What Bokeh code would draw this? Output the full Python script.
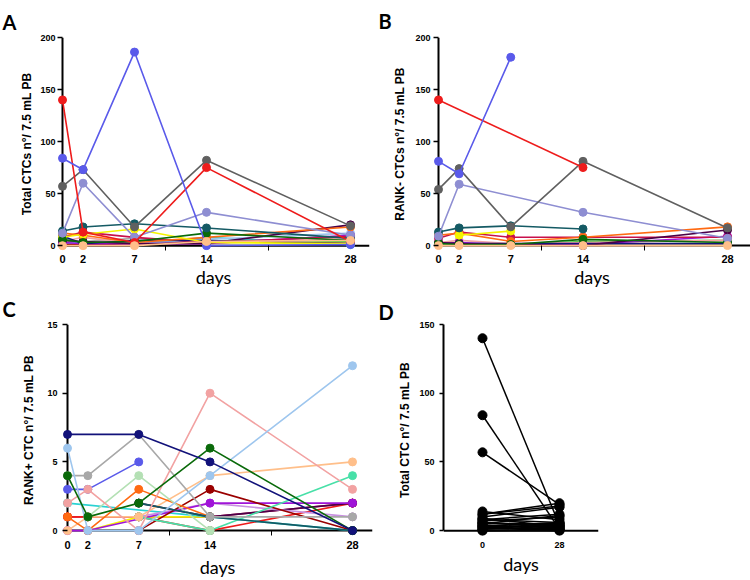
from bokeh.plotting import figure
from bokeh.models import Range1d, FixedTicker
from bokeh.layouts import column, row
from bokeh.embed import file_html
from bokeh.resources import INLINE

# ---------------- data ----------------
days = [0, 2, 7, 14, 28]
minor_days = [10, 20]

RED = "#ee1c1c"; BLUE = "#5a5aea"; DGRAY = "#606060"; LAV = "#8e8ed2"
TEAL = "#145a64"; DGREEN = "#0a6a0a"; YELLOW = "#f4f400"; ORANGE = "#ff6a12"
DPURPLE = "#4a0048"; NAVY = "#12127a"; CRIMSON = "#c8104c"; PURPLE = "#a014d8"
PINK = "#f2a2a2"; LBLUE = "#9ec6ee"; PEACH = "#ffbf8a"; LGRAY = "#a8a8a8"
GREEN = "#3cd23c"; CYAN = "#2ad2d2"; MAROON = "#9a0000"; LGREEN = "#b4e0b4"
AQUA = "#48e0a8"; LPURPLE = "#c890e0"

# Panel A: total CTCs per patient at days 0, 2, 7, 14, 28
total_colors = [LGRAY, GREEN, CYAN, MAROON, PINK, LBLUE, PURPLE, CRIMSON, NAVY,
                DPURPLE, ORANGE, YELLOW, DGREEN, TEAL, LAV, DGRAY, RED, BLUE, PEACH]
total_ctcs = [
    [4, 4, 7, 3, 6],
    [2, 1, 1, 3, 4],
    [2, 3, 1, 8, 1],
    [1, 1, 1, 5, 2],
    [4, 8, 2, 2, 8],
    [6, 3, 2, 6, 12],
    [3, 2, 2, 2, 10],
    [8, 13, 8, 3, 9],
    [9, 2, 5, 5, 2],
    [5, 4, 2, 2, 20],
    [12, 10, 3, 8, 18],
    [8, 11, 16, 3, 2],
    [6, 3, 4, 12, 5],
    [14, 18, 21, 17, 7],
    [12, 60, 8, 32, 10],
    [57, 73, 18, 82, 19],
    [140, 13, 3, 75, 4],
    [84, 73, 186, 0, 1],
    [0, 0, 0, 4, 5],
]

# Panel B: RANK- CTCs
rank_neg_colors = [GREEN, PINK, PURPLE, CRIMSON, NAVY, DPURPLE, ORANGE, YELLOW,
                   DGREEN, TEAL, LAV, DGRAY, RED, BLUE, PEACH]
rank_neg_ctcs = [
    [1, 1, 1, 4, 5],
    [3, 5, 2, 3, 5],
    [2, 3, 1, 1, 9],
    [7, 13, 8, 8, 8],
    [2, 2, None, None, 2],
    [3, 2, 1, 0, 15],
    [10, 12, 4, 8, 18],
    [None, 10, 14, None, None],
    [2, 1, 1, 6, 3],
    [13, 17, 19, 16, None],
    [9, 59, None, 32, 7],
    [54, 74, 18, 81, 17],
    [140, None, None, 75, None],
    [81, 69, 181, None, None],
    [0, 0, 0, 0, 0],
]

# Panel C: RANK+ CTCs
rank_pos_colors = [CRIMSON, RED, YELLOW, CYAN, DPURPLE, LPURPLE, PURPLE, MAROON,
                   AQUA, PEACH, ORANGE, LGREEN, TEAL, BLUE, LGRAY, PINK, LBLUE,
                   DGREEN, NAVY]
rank_pos_ctcs = [
    [1, 1, 1, 1, 2],
    [1, 1, 1, 0, 2],
    [None, 0, 1, 1, None],
    [2, None, None, 1, 0],
    [None, None, 2, 1, 2],
    [None, None, 1, 2, 1],
    [0, 0, None, 2, 2],
    [None, None, 0, 3, 0],
    [None, None, 1, 0, 4],
    [0, 1, 1, 4, 5],
    [1, 0, 3, 1, None],
    [None, 1, 4, 0, None],
    [None, None, 2, 1, 0],
    [3, 3, 5, None, None],
    [4, 4, 7, 1, 1],
    [2, 3, 0, 10, 3],
    [6, 0, 0, 4, 12],
    [4, 1, 2, 6, 0],
    [7, None, 7, 5, 0],
]

# Panel D: total CTC at day 0 vs day 28 (paired)
d_positions = [0, 1]
d_labels = ["0", "28"]
d_day0 = [140, 84, 57, 14, 12, 12, 10, 9, 8, 8, 7, 6, 6, 5, 5, 4, 4, 3, 3, 2, 2, 1, 1, 0, 0]
d_day28 = [4, 1, 19, 8, 20, 18, 17, 3, 12, 6, 10, 2, 4, 5, 11, 1, 2, 3, 6, 4, 0, 2, 5, 1, 0]

ylab_a = "Total CTCs n°/ 7.5 mL PB"
ylab_b = "RANK- CTCs n°/ 7.5 mL PB"
ylab_c = "RANK+ CTC n°/ 7.5 mL PB"
ylab_d = "Total CTC n°/ 7.5 mL PB"
xlab = "days"

# ---------------- helpers ----------------
W, H = 375, 290
AXFONT = "Liberation Sans"
EXT = 5  # px of frame beyond the zero lines so markers at 0 are not clipped


def make_panel(letter, lx, lift, fx0, fx1, fy0, fy1, x0px, kx, y0px, ky):
    xr = ((fx0 - x0px) / kx, (fx1 - x0px) / kx)
    yr = ((y0px - fy1) / ky, (y0px - fy0) / ky)
    p = figure(width=W, height=H, x_range=Range1d(*xr), y_range=Range1d(*yr),
               output_backend="svg", toolbar_location=None, tools="",
               min_border_left=fx0, min_border_right=W - fx1,
               min_border_top=fy0, min_border_bottom=H - fy1)
    p.outline_line_color = None
    p.grid.visible = False
    p.background_fill_color = "white"
    p.border_fill_color = "white"
    t = p.title
    t.text = letter
    t.align = "left"
    t.offset = -(fx0 - lx)
    t.standoff = lift
    t.text_font = "Lato"
    t.text_font_size = "20px"
    t.text_font_style = "bold"
    t.text_color = "black"
    return p, xr, yr


def style_y(p, ticks, label, lab_size, lab_standoff, tick_standoff, own_line):
    ya = p.yaxis[0]
    ya.ticker = FixedTicker(ticks=ticks)
    ya.bounds = (ticks[0], ticks[-1])
    ya.major_tick_line_width = 1.5
    ya.major_tick_line_color = "black"
    if own_line:
        ya.axis_line_width = 2
        ya.axis_line_color = "black"
        ya.major_tick_out = 4
        ya.major_tick_in = 0
    else:
        ya.axis_line_color = None
        ya.major_tick_out = 0
        ya.major_tick_in = EXT
    ya.minor_tick_out = 0
    ya.minor_tick_in = 0
    ya.major_label_text_font = AXFONT
    ya.major_label_text_font_style = "bold"
    ya.major_label_text_font_size = "9px"
    ya.major_label_text_color = "black"
    ya.major_label_standoff = tick_standoff
    ya.axis_label = label
    ya.axis_label_text_font = AXFONT
    ya.axis_label_text_font_style = "bold"
    ya.axis_label_text_font_size = lab_size
    ya.axis_label_text_color = "black"
    ya.axis_label_standoff = lab_standoff


def style_x(p, ticks, minor, tick_size, standoff, lab_standoff, overrides=None):
    xa = p.xaxis[0]
    xa.ticker = FixedTicker(ticks=ticks, minor_ticks=minor)
    xa.axis_line_color = None
    xa.major_tick_out = 0
    xa.major_tick_in = 0
    xa.minor_tick_out = 0
    xa.minor_tick_in = EXT
    xa.minor_tick_line_width = 1
    xa.minor_tick_line_color = "black"
    xa.major_label_text_font = AXFONT
    xa.major_label_text_font_style = "bold"
    xa.major_label_text_font_size = tick_size
    xa.major_label_text_color = "black"
    xa.major_label_standoff = standoff
    if overrides:
        xa.major_label_overrides = overrides
    xa.axis_label = xlab
    xa.axis_label_text_font = "Lato"
    xa.axis_label_text_font_style = "normal"
    xa.axis_label_text_font_size = "18px"
    xa.axis_label_text_color = "black"
    xa.axis_label_standoff = lab_standoff


def zero_axes(p, xr, ytop, with_y=True):
    # axis lines through the origin (x axis along y=0, y axis along x=0)
    p.segment(x0=[0 if with_y else xr[0]], y0=[0], x1=[xr[1]], y1=[0],
              line_color="black", line_width=2)
    if with_y:
        p.segment(x0=[0], y0=[0], x1=[0], y1=[ytop], line_color="black", line_width=2)


def draw_series(p, rows, colors, size=8, width=1.6):
    for vals, c in zip(rows, colors):
        xs = [d for d, v in zip(days, vals) if v is not None]
        ys = [v for v in vals if v is not None]
        p.line(xs, ys, line_color=c, line_width=width)
        p.scatter(xs, ys, size=size, fill_color=c, line_color=c)


# ---------------- panel A ----------------
pA, xrA, yrA = make_panel("A", 2, 8, 57, 369, 34, 254, 62, 288 / 28, 249, 215 / 200)
zero_axes(pA, xrA, 200)
draw_series(pA, total_ctcs, total_colors)
style_y(pA, [0, 50, 100, 150, 200], ylab_a, "12px", 3, 2, False)
style_x(pA, days, minor_days, "11px", 4, 0)

# ---------------- panel B ----------------
pB, xrB, yrB = make_panel("B", 3, 10, 58, 375, 37, 254, 63, 289 / 28, 249, 212 / 200)
zero_axes(pB, xrB, 200)
draw_series(pB, rank_neg_ctcs, rank_neg_colors)
style_y(pB, [0, 50, 100, 150, 200], ylab_b, "12px", 5, 3, False)
style_x(pB, days, minor_days, "11px", 4, 0)

# ---------------- panel C ----------------
pC, xrC, yrC = make_panel("C", 2, 8, 62, 372, 34, 249, 67, 285 / 28, 244, 210 / 15)
zero_axes(pC, xrC, 15)
draw_series(pC, rank_pos_ctcs, rank_pos_colors)
style_y(pC, [0, 5, 10, 15], ylab_c, "12px", 8, 5, False)
style_x(pC, days, minor_days, "11px", 5, 4)

# ---------------- panel D ----------------
pD, xrD, yrD = make_panel("D", 3, 2, 68, 223, 28, 247, 107, 77, 242, 214 / 150)
zero_axes(pD, xrD, 150, with_y=False)
for v0, v28 in zip(d_day0, d_day28):
    pD.line(d_positions, [v0, v28], line_color="black", line_width=1.5)
    pD.scatter(d_positions, [v0, v28], size=9, fill_color="black", line_color="black")
style_y(pD, [0, 50, 100, 150], ylab_d, "12px", 4, 5, True)
style_x(pD, d_positions, [], "9px", 6, 2,
        overrides={p: l for p, l in zip(d_positions, d_labels)})

layout = column(row(pA, pB), row(pC, pD))
open("out.html", "w").write(file_html(layout, INLINE))
